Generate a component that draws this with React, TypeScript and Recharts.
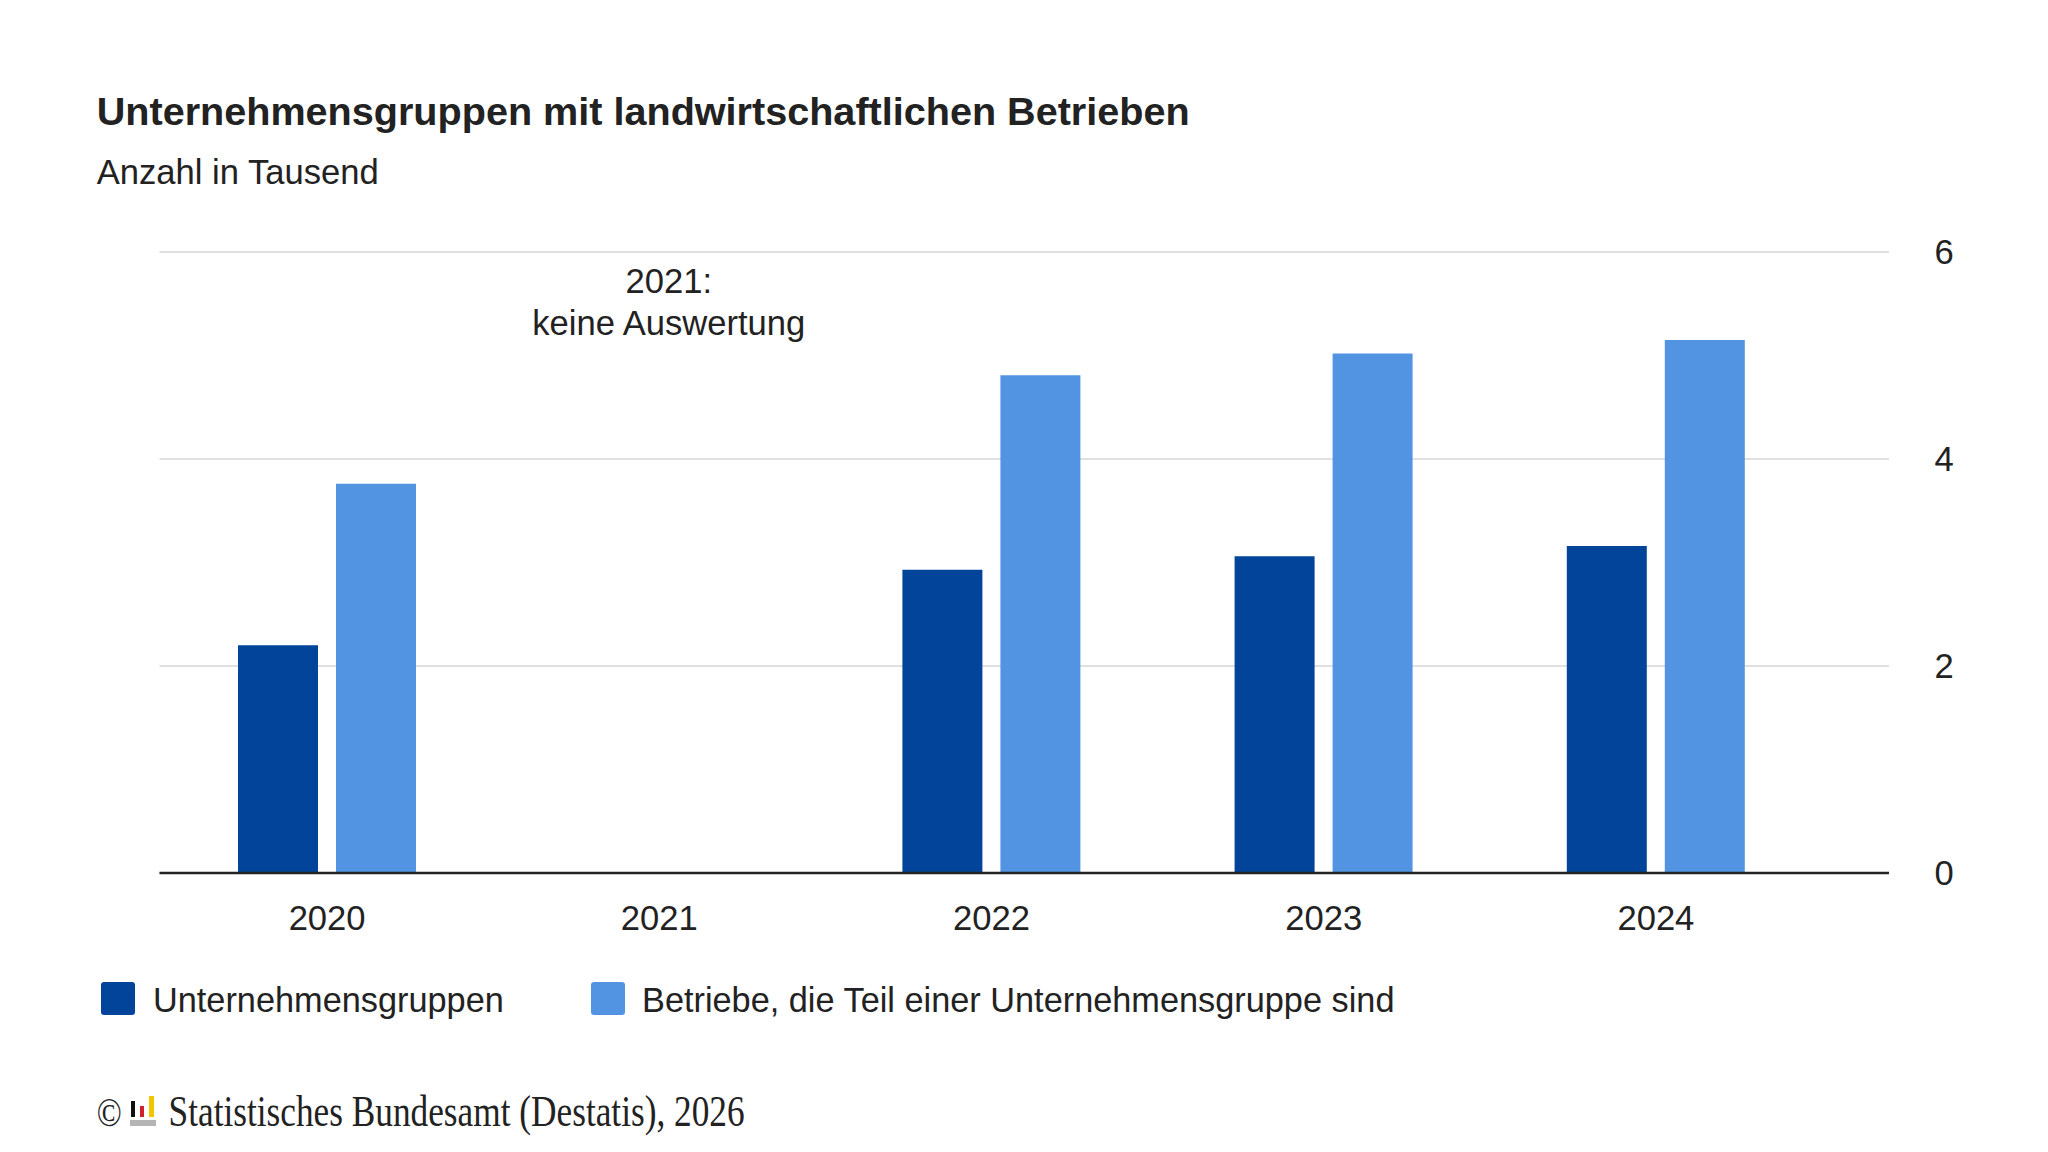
import React from 'react';
import { BarChart, Bar, XAxis, YAxis, CartesianGrid, ReferenceLine } from 'recharts';

const years = ['2020', '2021', '2022', '2023', '2024'];
const unternehmensgruppen = [2.2, null, 2.93, 3.06, 3.16];
const betriebe = [3.76, null, 4.81, 5.02, 5.15];
const yTicks = [0, 2, 4, 6];
const seriesNames = ['Unternehmensgruppen', 'Betriebe, die Teil einer Unternehmensgruppe sind'];
const seriesColors = ['#02449A', '#5394E2'];
const titleText = 'Unternehmensgruppen mit landwirtschaftlichen Betrieben';
const subtitleText = 'Anzahl in Tausend';
const annotationYear = '2021';
const annotationLines = ['2021:', 'keine Auswertung'];
const sourceText = 'Statistisches Bundesamt (Destatis), 2026';

const data = years.map((y, i) => ({ year: y, a: unternehmensgruppen[i], b: betriebe[i] }));

const FONT = '"Liberation Sans", Arial, Helvetica, sans-serif';
const SERIF = '"Liberation Serif", "Times New Roman", serif';
const TEXT = '#222222';
const FS = 34.6;

const AnnotationLabel = (props: any) => {
  const vb = props.viewBox || {};
  const x = (vb.x || 0) + 9.5;
  const y = vb.y || 0;
  return (
    <text x={x} textAnchor="middle" fontFamily={FONT} fontSize={FS} fill={TEXT}>
      <tspan x={x} y={y + 41}>{annotationLines[0]}</tspan>
      <tspan x={x} y={y + 83}>{annotationLines[1]}</tspan>
    </text>
  );
};

export default function App() {
  const legendX = [101, 591];
  const legendTextX = [153, 642];
  return (
    <div style={{ position: 'absolute', left: 0, top: 0, width: 2048, height: 1152, background: '#ffffff' }}>
      <BarChart
        width={2048}
        height={1152}
        data={data}
        margin={{ top: 252, left: 159.5, right: 59, bottom: 219 }}
        barSize={80}
        barGap={18}
      >
        <CartesianGrid vertical={false} stroke="#d6d6d6" strokeWidth={1.3} />
        <XAxis
          dataKey="year"
          padding={{ left: 1.5, right: 67 }}
          axisLine={{ stroke: '#222222', strokeWidth: 2.6 }}
          tickLine={false}
          tickMargin={26}
          height={60}
          interval={0}
          tick={{ fill: TEXT, fontSize: FS, fontFamily: FONT }}
        />
        <YAxis
          orientation="right"
          domain={[0, 6]}
          ticks={yTicks}
          width={100}
          axisLine={false}
          tickLine={false}
          tickMargin={39.5}
          tick={{ fill: TEXT, fontSize: FS, fontFamily: FONT }}
        />
        <Bar dataKey="a" name={seriesNames[0]} fill={seriesColors[0]} isAnimationActive={false} />
        <Bar dataKey="b" name={seriesNames[1]} fill={seriesColors[1]} isAnimationActive={false} />
        <ReferenceLine x={annotationYear} stroke="none" label={<AnnotationLabel />} />
      </BarChart>
      <svg
        width={2048}
        height={1152}
        style={{ position: 'absolute', left: 0, top: 0, pointerEvents: 'none' }}
      >
        <text x={96.7} y={124.7} fontFamily={FONT} fontSize={39.6} fontWeight="bold" fill={TEXT}>
          {titleText}
        </text>
        <text x={96.7} y={184.4} fontFamily={FONT} fontSize={FS} fill={TEXT}>
          {subtitleText}
        </text>
        {seriesNames.map((n, i) => (
          <g key={n}>
            <rect x={legendX[i]} y={982} width={34} height={33} rx={3} fill={seriesColors[i]} />
            <text x={legendTextX[i]} y={1012} fontFamily={FONT} fontSize={34.3} fill={TEXT}>
              {n}
            </text>
          </g>
        ))}
        <text x={96.7} y={1126} fontFamily={SERIF} fontSize={40} fill={TEXT} textLength={25} lengthAdjust="spacingAndGlyphs">
          ©
        </text>
        <rect x={130} y={1120} width={26} height={6} fill="#b4b4b4" />
        <rect x={131} y={1101} width={4} height={16} fill="#111111" />
        <rect x={140} y={1106} width={4} height={11} fill="#d0222a" />
        <rect x={149} y={1096} width={5} height={21} fill="#f2c500" />
        <text x={168.6} y={1126} fontFamily={SERIF} fontSize={44} fill={TEXT} textLength={576} lengthAdjust="spacingAndGlyphs">
          {sourceText}
        </text>
      </svg>
    </div>
  );
}
